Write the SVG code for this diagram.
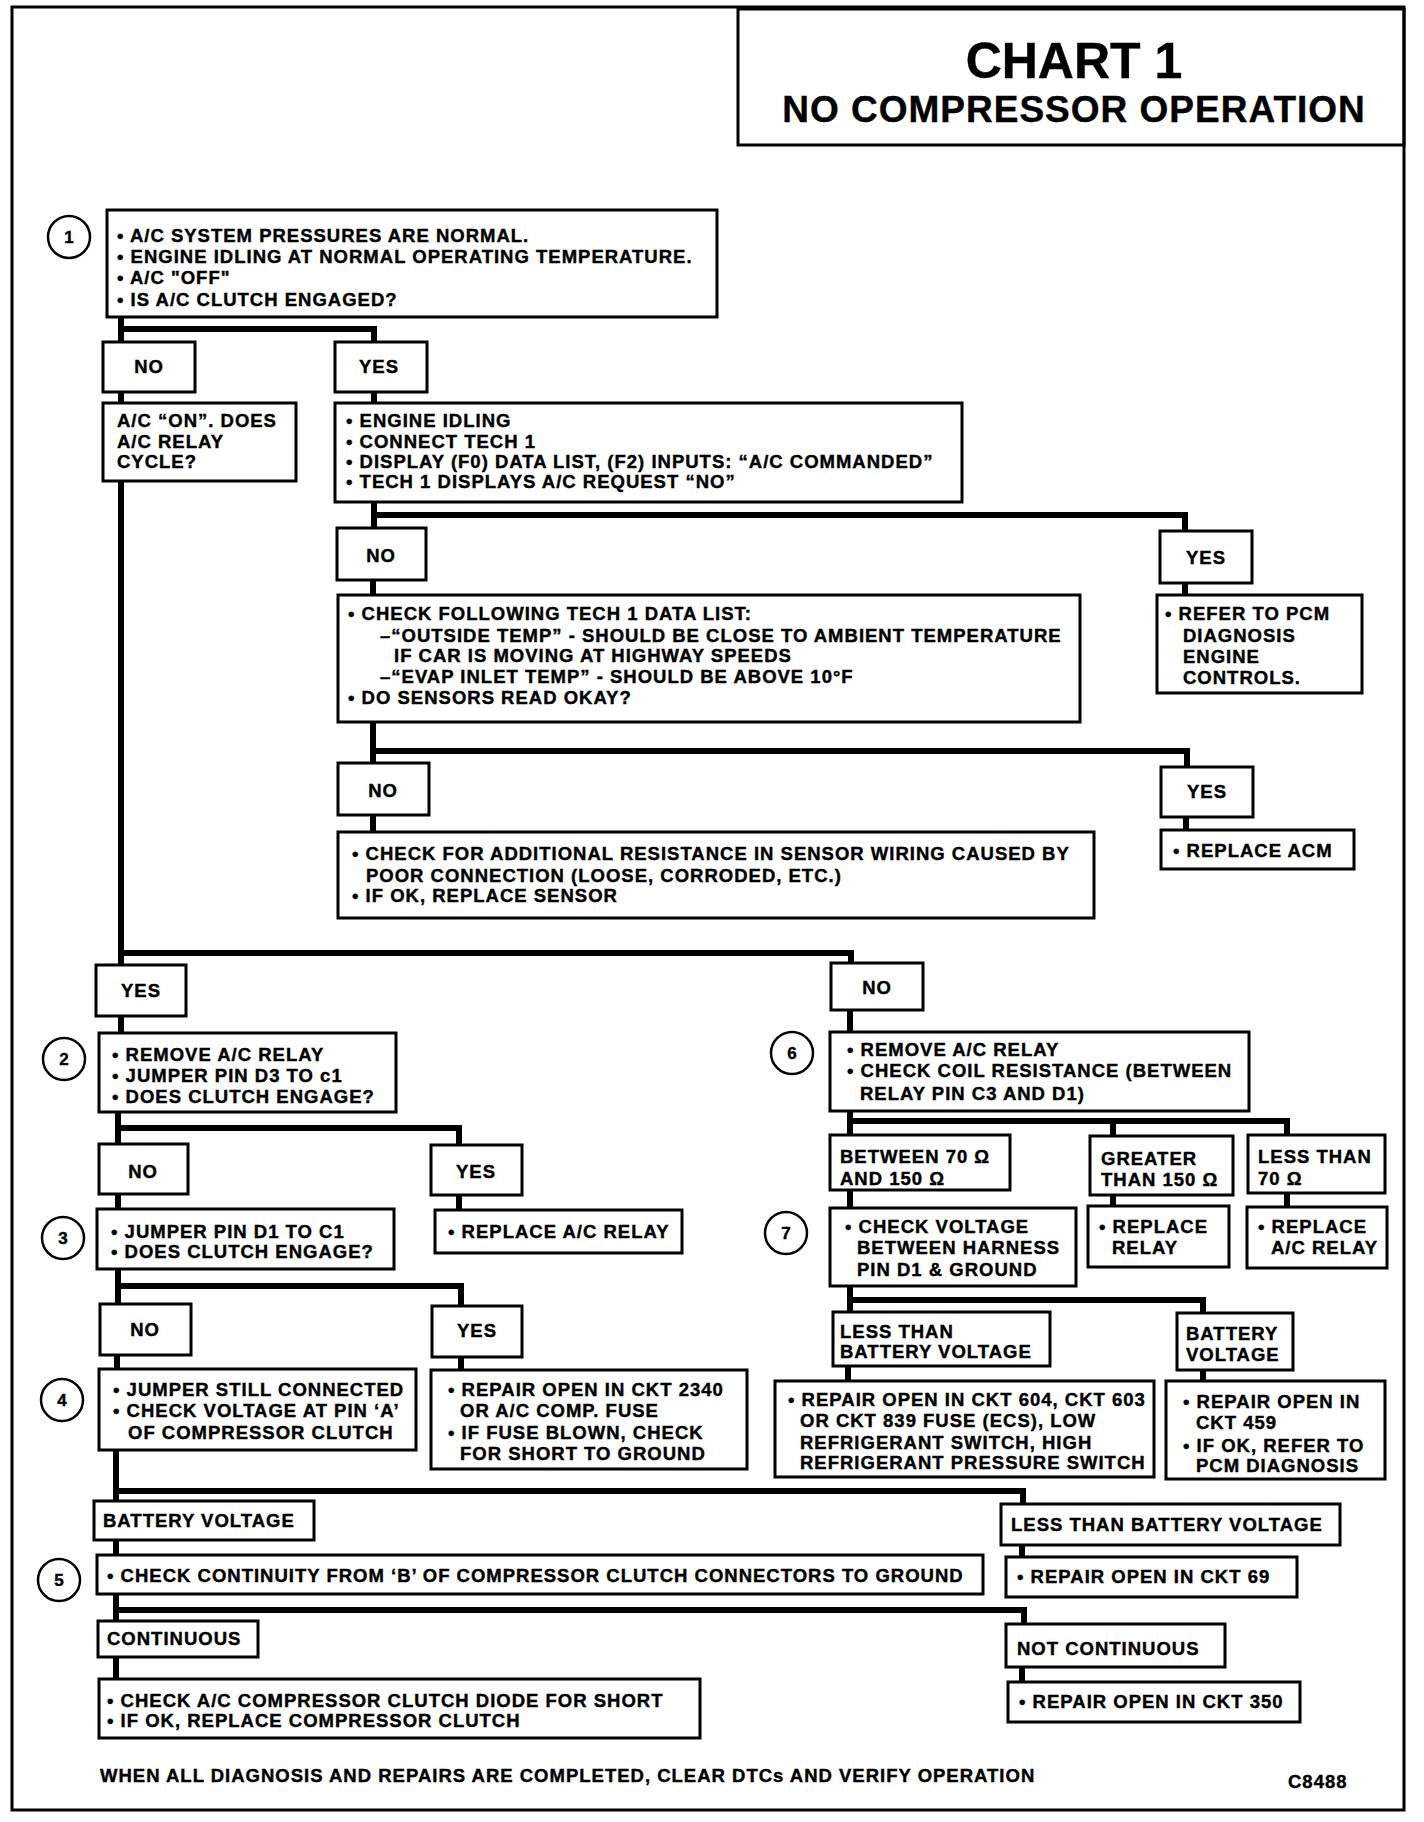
<svg xmlns="http://www.w3.org/2000/svg" width="1424" height="1822" viewBox="0 0 1424 1822">
<style>
.box{fill:#fff;stroke:#000;stroke-width:3}
.t{font-family:"Liberation Sans",Arial,Helvetica,sans-serif;font-weight:bold;font-size:18.5px;letter-spacing:1px;fill:#000;stroke:#000;stroke-width:0.4}
.c{text-anchor:middle}
.conn{fill:none;stroke:#000;stroke-width:6;stroke-linejoin:miter}
.num{fill:#fff;stroke:#000;stroke-width:2.5}
.n{font-size:17px;text-anchor:middle;letter-spacing:0}
.frame{fill:none;stroke:#000;stroke-width:3}
</style>
<rect x="0" y="0" width="1424" height="1822" fill="#fff"/>
<rect class="frame" x="12" y="7" width="1392" height="1803"/>
<g id="title">
<rect class="frame" x="738" y="9" width="666" height="136"/>
<text class="t" x="1074" y="78" style="font-size:50px;letter-spacing:0" text-anchor="middle">CHART 1</text>
<text class="t" x="1074" y="122" style="font-size:37px" text-anchor="middle">NO COMPRESSOR OPERATION</text>
</g>
<g id="connectors" class="conn">
<path d="M121 317 V342 M121 329 H374 V342"/>
<path d="M121 392 V403"/>
<path d="M374 392 V404"/>
<path d="M374 502 V528 M374 515 H1185 V530"/>
<path d="M373 580 V595 M1185 582 V595"/>
<path d="M373 722 V763 M373 751 H1187 V767"/>
<path d="M373 815 V832 M1186 817 V830"/>
<path d="M121 481 V1033 M121 953 H851 V963"/>
<path d="M118 1112 V1144 M118 1128 H459 V1145"/>
<path d="M118 1194 V1209 M459 1195 V1210"/>
<path d="M118 1269 V1304 M118 1286 H461 V1306"/>
<path d="M117 1355 V1369 M461 1357 V1370"/>
<path d="M116 1450 V1501 M116 1491 H1023 V1505"/>
<path d="M116 1540 V1555 M1022 1546 V1558"/>
<path d="M116 1595 V1621 M116 1610 H1024 V1624"/>
<path d="M116 1657 V1679 M1022 1667 V1681"/>
<path d="M850 1010 V1032"/>
<path d="M850 1111 V1135 M850 1121 H1287 V1135 M1113 1121 V1136"/>
<path d="M850 1190 V1208 M1113 1195 V1206 M1287 1193 V1207"/>
<path d="M850 1286 V1312 M850 1300 H1203 V1313"/>
<path d="M848 1366 V1381 M1203 1370 V1381"/>
</g>
<g id="step1">
<circle class="num" cx="69" cy="237" r="21"/><text class="t n" x="69" y="243">1</text>
<rect class="box" x="107" y="210" width="610" height="107"/>
<text class="t" x="117" y="242">• A/C SYSTEM PRESSURES ARE NORMAL.</text>
<text class="t" x="117" y="263">• ENGINE IDLING AT NORMAL OPERATING TEMPERATURE.</text>
<text class="t" x="117" y="284">• A/C "OFF"</text>
<text class="t" x="117" y="306">• IS A/C CLUTCH ENGAGED?</text>
</g>
<g id="no1"><rect class="box" x="103" y="342" width="92" height="50"/><text class="t c" x="149" y="373">NO</text></g>
<g id="yes1"><rect class="box" x="335" y="342" width="92" height="50"/><text class="t c" x="379" y="373">YES</text></g>
<g id="acon"><rect class="box" x="103" y="403" width="193" height="78"/>
<text class="t" x="117" y="427">A/C “ON”. DOES</text>
<text class="t" x="117" y="448">A/C RELAY</text>
<text class="t" x="117" y="468">CYCLE?</text></g>
<g id="engidle"><rect class="box" x="335" y="403" width="627" height="99"/>
<text class="t" x="346" y="427">• ENGINE IDLING</text>
<text class="t" x="346" y="448">• CONNECT TECH 1</text>
<text class="t" x="346" y="468">• DISPLAY (F0) DATA LIST, (F2) INPUTS: “A/C COMMANDED”</text>
<text class="t" x="346" y="488">• TECH 1 DISPLAYS A/C REQUEST “NO”</text></g>
<g id="no2"><rect class="box" x="337" y="528" width="89" height="52"/><text class="t c" x="381" y="562">NO</text></g>
<g id="yes2"><rect class="box" x="1160" y="531" width="92" height="52"/><text class="t c" x="1206" y="564">YES</text></g>
<g id="checklist"><rect class="box" x="338" y="595" width="742" height="127"/>
<text class="t" x="348" y="620">• CHECK FOLLOWING TECH 1 DATA LIST:</text>
<text class="t" x="380" y="642">–“OUTSIDE TEMP” - SHOULD BE CLOSE TO AMBIENT TEMPERATURE</text>
<text class="t" x="394" y="662">IF CAR IS MOVING AT HIGHWAY SPEEDS</text>
<text class="t" x="380" y="683">–“EVAP INLET TEMP” - SHOULD BE ABOVE 10°F</text>
<text class="t" x="348" y="704">• DO SENSORS READ OKAY?</text></g>
<g id="refer"><rect class="box" x="1157" y="595" width="205" height="98"/>
<text class="t" x="1165" y="620">• REFER TO PCM</text>
<text class="t" x="1183" y="642">DIAGNOSIS</text>
<text class="t" x="1183" y="663">ENGINE</text>
<text class="t" x="1183" y="684">CONTROLS.</text></g>
<g id="no3"><rect class="box" x="338" y="763" width="91" height="52"/><text class="t c" x="383" y="797">NO</text></g>
<g id="yes3"><rect class="box" x="1161" y="767" width="92" height="50"/><text class="t c" x="1207" y="798">YES</text></g>
<g id="wiring"><rect class="box" x="338" y="832" width="756" height="86"/>
<text class="t" x="352" y="860">• CHECK FOR ADDITIONAL RESISTANCE IN SENSOR WIRING CAUSED BY</text>
<text class="t" x="366" y="882">POOR CONNECTION (LOOSE, CORRODED, ETC.)</text>
<text class="t" x="352" y="902">• IF OK, REPLACE SENSOR</text></g>
<g id="acm"><rect class="box" x="1161" y="830" width="193" height="39"/>
<text class="t" x="1173" y="857">• REPLACE ACM</text></g>
<g id="yes4"><rect class="box" x="96" y="965" width="90" height="51"/><text class="t c" x="141" y="997">YES</text></g>
<g id="step2">
<circle class="num" cx="64" cy="1059" r="21"/><text class="t n" x="64" y="1065">2</text>
<rect class="box" x="99" y="1033" width="297" height="79"/>
<text class="t" x="112" y="1061">• REMOVE A/C RELAY</text>
<text class="t" x="112" y="1082">• JUMPER PIN D3 TO c1</text>
<text class="t" x="112" y="1103">• DOES CLUTCH ENGAGE?</text></g>
<g id="no5"><rect class="box" x="99" y="1144" width="89" height="50"/><text class="t c" x="143" y="1178">NO</text></g>
<g id="yes5"><rect class="box" x="431" y="1145" width="91" height="50"/><text class="t c" x="476" y="1178">YES</text></g>
<g id="step3">
<circle class="num" cx="63" cy="1238" r="21"/><text class="t n" x="63" y="1244">3</text>
<rect class="box" x="97" y="1209" width="297" height="60"/>
<text class="t" x="111" y="1238">• JUMPER PIN D1 TO C1</text>
<text class="t" x="111" y="1258">• DOES CLUTCH ENGAGE?</text></g>
<g id="replrelay1"><rect class="box" x="435" y="1210" width="247" height="43"/>
<text class="t" x="448" y="1238">• REPLACE A/C RELAY</text></g>
<g id="no6"><rect class="box" x="100" y="1304" width="91" height="51"/><text class="t c" x="145" y="1336">NO</text></g>
<g id="yes6"><rect class="box" x="432" y="1306" width="90" height="51"/><text class="t c" x="477" y="1337">YES</text></g>
<g id="step4">
<circle class="num" cx="62" cy="1400" r="21"/><text class="t n" x="62" y="1406">4</text>
<rect class="box" x="99" y="1369" width="317" height="81"/>
<text class="t" x="113" y="1396">• JUMPER STILL CONNECTED</text>
<text class="t" x="113" y="1417">• CHECK VOLTAGE AT PIN ‘A’</text>
<text class="t" x="128" y="1439">OF COMPRESSOR CLUTCH</text></g>
<g id="repair2340"><rect class="box" x="431" y="1370" width="316" height="99"/>
<text class="t" x="448" y="1396">• REPAIR OPEN IN CKT 2340</text>
<text class="t" x="460" y="1417">OR A/C COMP. FUSE</text>
<text class="t" x="448" y="1439">• IF FUSE BLOWN, CHECK</text>
<text class="t" x="460" y="1460">FOR SHORT TO GROUND</text></g>
<g id="battvolt"><rect class="box" x="94" y="1501" width="220" height="39"/>
<text class="t" x="103" y="1527">BATTERY VOLTAGE</text></g>
<g id="lessbatt"><rect class="box" x="1001" y="1504" width="339" height="41"/>
<text class="t" x="1011" y="1531">LESS THAN BATTERY VOLTAGE</text></g>
<g id="step5">
<circle class="num" cx="59" cy="1580" r="21"/><text class="t n" x="59" y="1586">5</text>
<rect class="box" x="97" y="1555" width="886" height="39"/>
<text class="t" x="107" y="1582">• CHECK CONTINUITY FROM ‘B’ OF COMPRESSOR CLUTCH CONNECTORS TO GROUND</text></g>
<g id="repair69"><rect class="box" x="1006" y="1557" width="291" height="40"/>
<text class="t" x="1017" y="1583">• REPAIR OPEN IN CKT 69</text></g>
<g id="continuous"><rect class="box" x="98" y="1621" width="160" height="36"/>
<text class="t" x="107" y="1645">CONTINUOUS</text></g>
<g id="notcontinuous"><rect class="box" x="1006" y="1624" width="219" height="43"/>
<text class="t" x="1017" y="1655">NOT CONTINUOUS</text></g>
<g id="diode"><rect class="box" x="99" y="1679" width="601" height="59"/>
<text class="t" x="107" y="1707">• CHECK A/C COMPRESSOR CLUTCH DIODE FOR SHORT</text>
<text class="t" x="107" y="1727">• IF OK, REPLACE COMPRESSOR CLUTCH</text></g>
<g id="repair350"><rect class="box" x="1008" y="1682" width="292" height="40"/>
<text class="t" x="1019" y="1708">• REPAIR OPEN IN CKT 350</text></g>
<g id="no7"><rect class="box" x="831" y="963" width="92" height="47"/><text class="t c" x="877" y="994">NO</text></g>
<g id="step6">
<circle class="num" cx="792" cy="1053" r="21"/><text class="t n" x="792" y="1059">6</text>
<rect class="box" x="830" y="1032" width="419" height="79"/>
<text class="t" x="847" y="1056">• REMOVE A/C RELAY</text>
<text class="t" x="847" y="1077">• CHECK COIL RESISTANCE (BETWEEN</text>
<text class="t" x="860" y="1100">RELAY PIN C3 AND D1)</text></g>
<g id="between"><rect class="box" x="830" y="1135" width="180" height="55"/>
<text class="t" x="840" y="1163">BETWEEN 70 Ω</text>
<text class="t" x="840" y="1185">AND 150 Ω</text></g>
<g id="greater"><rect class="box" x="1090" y="1136" width="143" height="59"/>
<text class="t" x="1101" y="1165">GREATER</text>
<text class="t" x="1101" y="1186">THAN 150 Ω</text></g>
<g id="less70"><rect class="box" x="1248" y="1135" width="137" height="58"/>
<text class="t" x="1258" y="1163">LESS THAN</text>
<text class="t" x="1258" y="1185">70 Ω</text></g>
<g id="step7">
<circle class="num" cx="786" cy="1233" r="21"/><text class="t n" x="786" y="1239">7</text>
<rect class="box" x="830" y="1208" width="246" height="78"/>
<text class="t" x="845" y="1233">• CHECK VOLTAGE</text>
<text class="t" x="857" y="1254">BETWEEN HARNESS</text>
<text class="t" x="857" y="1276">PIN D1 &amp; GROUND</text></g>
<g id="replrelay2"><rect class="box" x="1088" y="1206" width="141" height="61"/>
<text class="t" x="1099" y="1233">• REPLACE</text>
<text class="t" x="1112" y="1254">RELAY</text></g>
<g id="replrelay3"><rect class="box" x="1247" y="1207" width="140" height="61"/>
<text class="t" x="1258" y="1233">• REPLACE</text>
<text class="t" x="1271" y="1254">A/C RELAY</text></g>
<g id="lessbatt2"><rect class="box" x="833" y="1312" width="217" height="54"/>
<text class="t" x="840" y="1338">LESS THAN</text>
<text class="t" x="840" y="1358">BATTERY VOLTAGE</text></g>
<g id="battvolt2"><rect class="box" x="1177" y="1313" width="116" height="57"/>
<text class="t" x="1186" y="1340">BATTERY</text>
<text class="t" x="1186" y="1361">VOLTAGE</text></g>
<g id="repair604"><rect class="box" x="775" y="1381" width="379" height="96"/>
<text class="t" x="788" y="1406">• REPAIR OPEN IN CKT 604, CKT 603</text>
<text class="t" x="800" y="1427">OR CKT 839 FUSE (ECS), LOW</text>
<text class="t" x="800" y="1449">REFRIGERANT SWITCH, HIGH</text>
<text class="t" x="800" y="1469">REFRIGERANT PRESSURE SWITCH</text></g>
<g id="repair459"><rect class="box" x="1166" y="1381" width="219" height="98"/>
<text class="t" x="1183" y="1408">• REPAIR OPEN IN</text>
<text class="t" x="1196" y="1429">CKT 459</text>
<text class="t" x="1183" y="1452">• IF OK, REFER TO</text>
<text class="t" x="1196" y="1472">PCM DIAGNOSIS</text></g>
<g id="footer">
<text class="t" x="100" y="1782">WHEN ALL DIAGNOSIS AND REPAIRS ARE COMPLETED, CLEAR DTCs AND VERIFY OPERATION</text>
<text class="t" x="1288" y="1788">C8488</text>
</g>
</svg>
